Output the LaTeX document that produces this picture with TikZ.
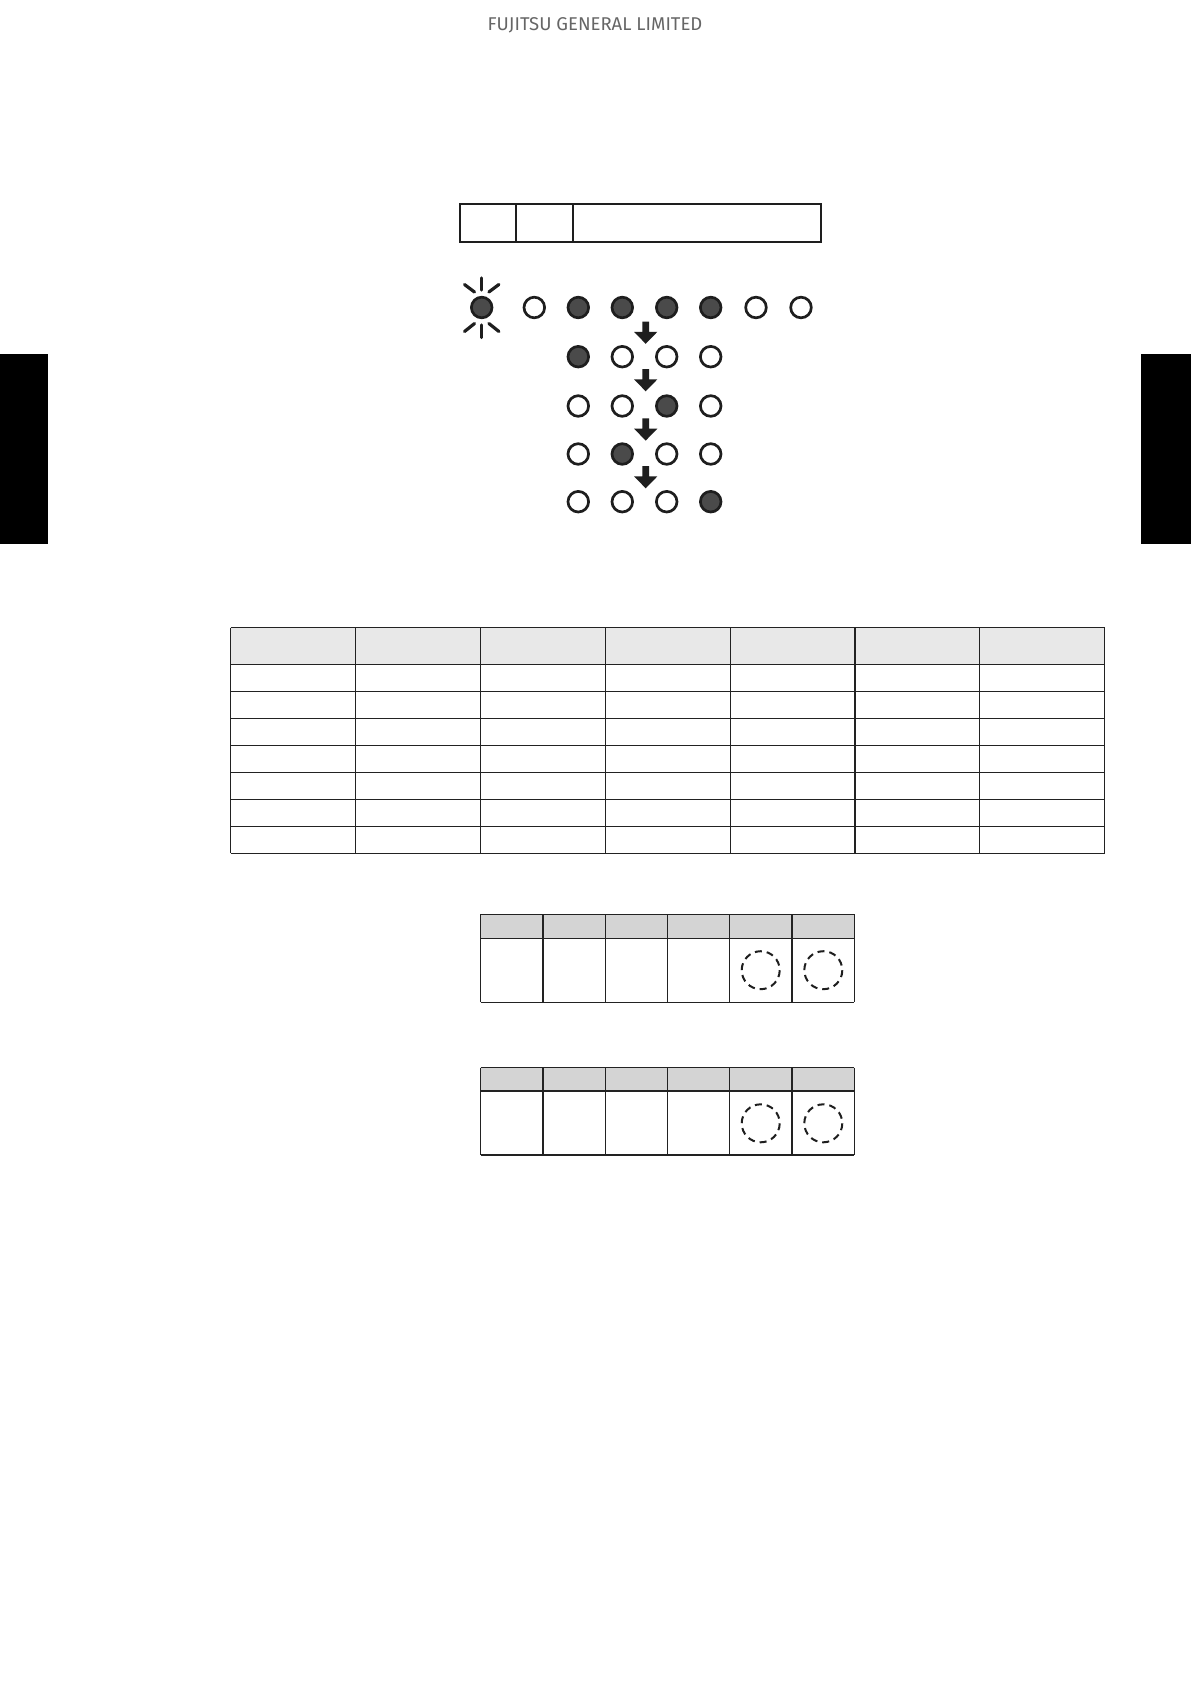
\documentclass[tikz,border=0pt]{standalone}
\usepackage{fontspec}
\setmainfont{Fira Sans}
\definecolor{hdrgray}{HTML}{666666}
\definecolor{ledline}{HTML}{1E1E1E}
\definecolor{ledfill}{HTML}{4A4A4A}
\definecolor{gridline}{HTML}{222222}
\definecolor{headlight}{HTML}{E8E8E8}
\definecolor{headdark}{HTML}{D4D4D4}
\tikzset{
  led/.style={circle, draw=ledline, line width=2.7pt, minimum size=20.6pt, inner sep=0pt, fill=white},
  ledon/.style={led, fill=ledfill},
  ray/.style={draw=ledline, line width=3.2pt, line cap=round},
  grid/.style={draw=gridline, line width=1.2pt},
  dashring/.style={draw=ledline, line width=2pt, dash pattern=on 7pt off 4.94pt},
  downarrow/.style={fill=ledline},
}
\begin{document}
\begin{tikzpicture}[x=1pt,y=-1pt]
\useasboundingbox (0,0) rectangle (1191,1684);
\fill[white] (0,0) rectangle (1191,1684);

% side tabs
\fill[black] (0,354) rectangle (48,544);
\fill[black] (1141,354) rectangle (1191,544);

% header
\node[text=hdrgray, font=\fontsize{18.5}{22}\selectfont, inner sep=0pt, anchor=base] (hdr) at (595,30.5) {FUJITSU GENERAL LIMITED};

% top box
\draw[draw=ledline, line width=1.8pt] (460,204) rectangle (821,242);
\draw[draw=ledline, line width=1.8pt] (516.3,204) -- (516.3,242);
\draw[draw=ledline, line width=1.8pt] (573.3,204) -- (573.3,242);

% row 1
\node[ledon] (a1) at (481.7,307.5) {};
\node[led]   (a2) at (534.3,307.5) {};
\node[ledon] (a3) at (578.3,307.5) {};
\node[ledon] (a4) at (622.3,307.5) {};
\node[ledon] (a5) at (666.7,307.5) {};
\node[ledon] (a6) at (710.7,307.5) {};
\node[led]   (a7) at (756,307.5) {};
\node[led]   (a8) at (801,307.5) {};
% blink rays
\draw[ray] (481.7,278) -- (481.7,290);
\draw[ray] (481.7,325) -- (481.7,337.5);
\draw[ray] (464.5,284.5) -- (474.5,292);
\draw[ray] (498.9,284.5) -- (488.9,292);
\draw[ray] (464.5,331.5) -- (474.5,323.5);
\draw[ray] (498.9,331.5) -- (488.9,323.5);

% row 2
\node[ledon] (b1) at (578.3,356.7) {};
\node[led]   (b2) at (622.3,356.7) {};
\node[led]   (b3) at (666.7,356.7) {};
\node[led]   (b4) at (710.7,356.7) {};
% row 3
\node[led]   (c1) at (578.3,406) {};
\node[led]   (c2) at (622.3,406) {};
\node[ledon] (c3) at (666.7,406) {};
\node[led]   (c4) at (710.7,406) {};
% row 4
\node[led]   (d1) at (578.3,454) {};
\node[ledon] (d2) at (622.3,454) {};
\node[led]   (d3) at (666.7,454) {};
\node[led]   (d4) at (710.7,454) {};
% row 5
\node[led]   (e1) at (578.3,501.7) {};
\node[led]   (e2) at (622.3,501.7) {};
\node[led]   (e3) at (666.7,501.7) {};
\node[ledon] (e4) at (710.7,501.7) {};

% down arrows
\foreach \t in {321.5,369,418.3,466}{
  \fill[downarrow] (645.7-3.4,\t) -- (645.7+3.4,\t) -- (645.7+3.4,\t+10.3) -- (645.7+11.7,\t+10.3)
     -- (645.7,\t+22.3) -- (645.7-11.7,\t+10.3) -- (645.7-3.4,\t+10.3) -- cycle;
}

% table 1
\fill[headlight] (230.7,627.7) rectangle (1104.7,664.3);
\foreach \y in {627.7,664.3,691.3,718.3,745.3,772.3,799.3,826.3,853.3}
  \draw[grid] (230.7,\y) -- (1104.7,\y);
\foreach \i in {0,...,7}
  \draw[grid] (230.7+124.857*\i,627.7) -- (230.7+124.857*\i,853.3);

% table 2
\fill[headdark] (480.7,914.3) rectangle (854.3,938.3);
\foreach \y in {914.3,938.3,1002.3}
  \draw[grid] (480.7,\y) -- (854.3,\y);
\foreach \i in {0,...,6}
  \draw[grid] (480.7+62.267*\i,914.3) -- (480.7+62.267*\i,1002.3);
\draw[dashring] (760.7,970.2) circle[radius=19];
\draw[dashring] (823.3,970.2) circle[radius=19];

% table 3
\fill[headdark] (480.7,1067.7) rectangle (854.3,1091);
\foreach \y in {1067.7,1091,1155}
  \draw[grid] (480.7,\y) -- (854.3,\y);
\foreach \i in {0,...,6}
  \draw[grid] (480.7+62.267*\i,1067.7) -- (480.7+62.267*\i,1155);
\draw[dashring] (760.7,1123.3) circle[radius=19];
\draw[dashring] (823.3,1123.3) circle[radius=19];
\end{tikzpicture}
\end{document}
